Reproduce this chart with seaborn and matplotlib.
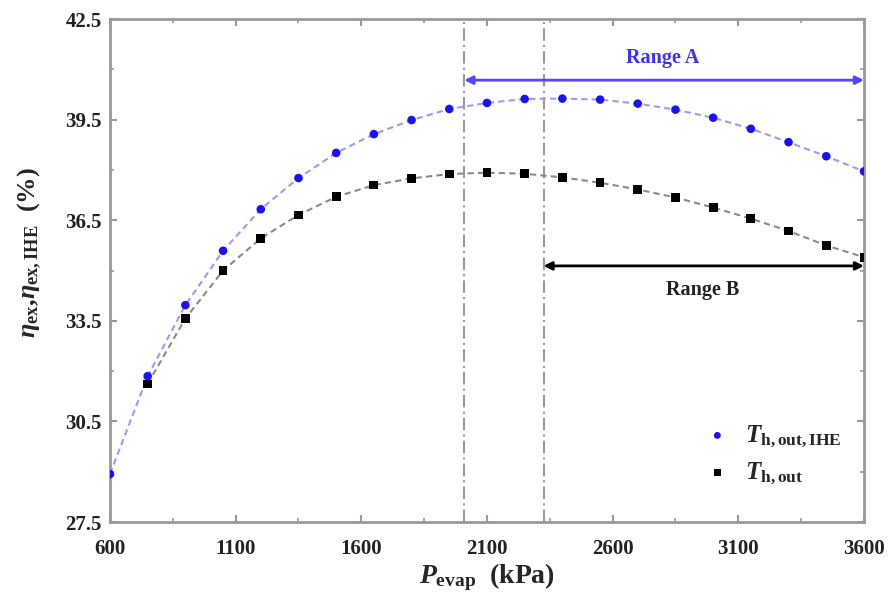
import numpy as np
import pandas as pd
import matplotlib
matplotlib.use("Agg")
import matplotlib.pyplot as plt
import seaborn as sns

# ---- data ----
p_evap = [600, 750, 900, 1050, 1200, 1350, 1500, 1650, 1800, 1950, 2100,
          2250, 2400, 2550, 2700, 2850, 3000, 3150, 3300, 3450, 3600]
eta_ihe = [28.93, 31.85, 33.97, 35.59, 36.83, 37.76, 38.51, 39.07, 39.49, 39.82,
           40.00, 40.12, 40.13, 40.10, 39.98, 39.80, 39.56, 39.23, 38.83, 38.41, 37.96]
p_evap_b = p_evap[1:]
eta_out = [31.62, 33.57, 35.00, 35.96, 36.66, 37.20, 37.55, 37.75, 37.88,
           37.92, 37.89, 37.78, 37.62, 37.42, 37.18, 36.88, 36.55, 36.18, 35.75, 35.40]
range_a = [2010, 3600]
range_b = [2325, 3600]
range_a_y = 40.68
range_b_y = 35.14
x_ticks = [600, 1100, 1600, 2100, 2600, 3100, 3600]
y_ticks = [27.5, 30.5, 33.5, 36.5, 39.5, 42.5]

df_a = pd.DataFrame({"p": p_evap, "eta": eta_ihe})
df_b = pd.DataFrame({"p": p_evap_b, "eta": eta_out})

sns.set_style("ticks")
plt.rcParams["font.family"] = ["Liberation Serif", "DejaVu Serif"]
plt.rcParams["mathtext.fontset"] = "custom"
plt.rcParams["mathtext.rm"] = "Liberation Serif:bold"
plt.rcParams["mathtext.it"] = "Liberation Serif:italic:bold"
plt.rcParams["mathtext.bf"] = "Liberation Serif:bold"

fig = plt.figure(figsize=(8.94, 5.98), dpi=100)
ax = fig.add_axes([0.123, 0.127, 0.8434, 0.841])

blue = "#1a10ff"
sns.lineplot(data=df_a, x="p", y="eta", ax=ax, color="#9d97ff", lw=1.5,
             linestyle=(0, (3, 2)), zorder=2, legend=False)
sns.lineplot(data=df_b, x="p", y="eta", ax=ax, color="#8a8a8a", lw=1.5,
             linestyle=(0, (3, 2)), zorder=2, legend=False)
sns.scatterplot(data=df_b, x="p", y="eta", ax=ax, color="black", marker="s",
                s=40, edgecolor="none", zorder=3,
                label=r"$T_{\mathrm{h,out}}$")
sns.scatterplot(data=df_a, x="p", y="eta", ax=ax, color=blue, marker="o",
                s=38, edgecolor="none", zorder=4,
                label=r"$T_{\mathrm{h,out,IHE}}$")

# vertical dash-dot lines
for xv in (range_a[0], range_b[0]):
    ax.axvline(xv, color="#9a9a9a", lw=1.5, linestyle=(0, (6, 2, 1, 2)), zorder=1)

# range arrows
ax.annotate("", xy=(range_a[1], range_a_y), xytext=(range_a[0], range_a_y),
            arrowprops=dict(arrowstyle="<|-|>", color="#5544ff", lw=2,
                            mutation_scale=12, shrinkA=0, shrinkB=0))
ax.text(2800, 41.35, "Range A", color="#3a30ff", fontsize=14.5, fontweight="bold",
        ha="center", va="center")
ax.annotate("", xy=(range_b[1], range_b_y), xytext=(range_b[0], range_b_y),
            arrowprops=dict(arrowstyle="<|-|>", color="black", lw=2,
                            mutation_scale=12, shrinkA=0, shrinkB=0))
ax.text(2960, 34.42, "Range B", color="#222222", fontsize=14.5, fontweight="bold",
        ha="center", va="center")

ax.set_xlim(600, 3600)
ax.set_ylim(27.5, 42.5)
ax.set_xticks(x_ticks)
ax.set_yticks(y_ticks)
ax.set_xticks([850 + 500 * i for i in range(6)], minor=True)
ax.set_yticks([29 + 3 * i for i in range(5)], minor=True)
ax.set_xticklabels([str(v) for v in x_ticks], fontsize=15, fontweight="bold")
ax.set_yticklabels([f"{v:.1f}" for v in y_ticks], fontsize=15, fontweight="bold")
ax.tick_params(which="both", direction="in", top=True, right=True,
               color="#999999", labelcolor="#222222")
ax.tick_params(which="major", length=5, width=1.5)
ax.tick_params(axis="x", which="major", pad=12)
ax.tick_params(axis="y", which="major", pad=6)
ax.tick_params(which="minor", length=3, width=1.2)
for s in ax.spines.values():
    s.set_color("#999999")
    s.set_linewidth(2)

ax.set_xlabel(r"$P_{\mathrm{evap}}$  (kPa)", fontsize=20, fontweight="bold",
              labelpad=2)
ax.set_ylabel(r"$\eta_{\mathrm{ex}}$,$\eta_{\mathrm{ex,IHE}}$  (%)", fontsize=19,
              fontweight="bold")
ax.yaxis.set_label_coords(-0.088, 0.535)

handles, labels = ax.get_legend_handles_labels()
leg = ax.legend(handles[::-1], labels[::-1], loc="lower right",
                bbox_to_anchor=(1.0, 0.025), frameon=False, fontsize=18,
                handletextpad=0.1, labelspacing=0.45, markerscale=0.8)

fig.savefig("out.png", dpi=100)
